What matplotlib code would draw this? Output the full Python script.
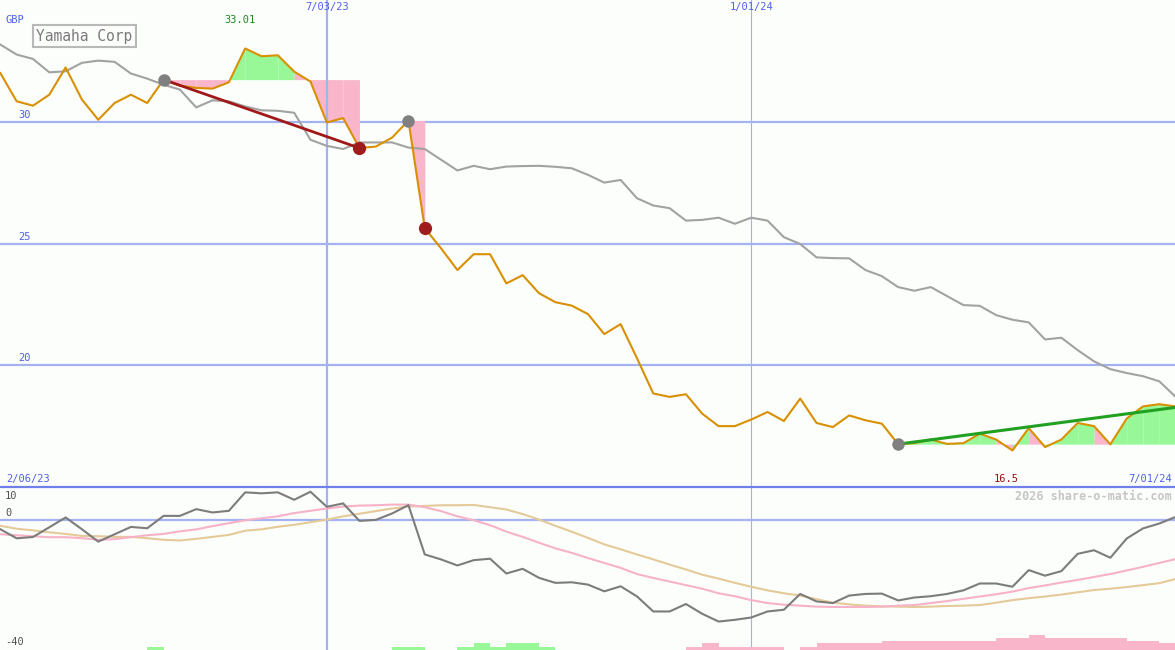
import matplotlib
matplotlib.use('Agg')
import matplotlib.pyplot as plt
from matplotlib.lines import Line2D
import numpy as np
import pandas as pd

# ---------------- data (weekly) ----------------
price = [32.00, 30.84, 30.66, 31.11, 32.23, 30.91, 30.08, 30.77, 31.11, 30.77,
         31.73, 31.48, 31.39, 31.36, 31.62, 33.01, 32.69, 32.73, 32.06, 31.65,
         29.97, 30.15, 28.92, 28.98, 29.35, 30.05, 25.63, 24.80, 23.91, 24.56,
         24.56, 23.36, 23.70, 22.96, 22.59, 22.45, 22.10, 21.28, 21.69, 20.29,
         18.84, 18.70, 18.81, 18.01, 17.50, 17.50, 17.77, 18.08, 17.71, 18.63,
         17.63, 17.46, 17.94, 17.74, 17.60, 16.76, 16.80, 16.95, 16.77, 16.80,
         17.19, 16.95, 16.50, 17.42, 16.64, 16.95, 17.63, 17.50, 16.75, 17.81,
         18.31, 18.40, 18.31]

avg = [33.17, 32.76, 32.58, 32.03, 32.07, 32.42, 32.51, 32.46, 31.98, 31.77,
       31.52, 31.32, 30.59, 30.88, 30.84, 30.63, 30.47, 30.45, 30.37, 29.26,
       29.01, 28.88, 29.15, 29.15, 29.15, 28.94, 28.88, 28.44, 28.00, 28.19,
       28.05, 28.16, 28.18, 28.19, 28.15, 28.09, 27.82, 27.50, 27.61, 26.86,
       26.56, 26.45, 25.94, 25.97, 26.06, 25.81, 26.06, 25.94, 25.26, 24.98,
       24.43, 24.40, 24.39, 23.91, 23.66, 23.21, 23.06, 23.21, 22.84, 22.47,
       22.44, 22.06, 21.87, 21.76, 21.06, 21.13, 20.62, 20.16, 19.84, 19.68,
       19.55, 19.34, 18.70]

osc = [-2.96, -5.74, -5.34, -2.35, 0.65, -2.96, -6.76, -4.5, -2.25, -2.65,
       1.14, 1.14, 3.21, 2.19, 2.69, 8.36, 8.06, 8.36, 6.08, 8.55,
       3.92, 4.97, -0.40, -0.09, 1.88, 4.44, -10.68, -12.22, -14.07, -12.44,
       -12.0, -16.54, -15.09, -17.87, -19.41, -19.23, -19.94, -22.0, -20.46, -23.55,
       -28.18, -28.18, -25.9, -28.9, -31.27, -30.74, -30.03, -28.18, -27.65, -22.8,
       -25.1, -25.6, -23.3, -22.8, -22.7, -24.8, -23.9, -23.5, -22.8, -21.7,
       -19.6, -19.6, -20.6, -15.5, -17.2, -15.8, -10.5, -9.4, -11.7, -5.8,
       -2.7, -1.2, 0.83]

osc_fast = [-4.5, -4.8, -5.1, -5.4, -5.4, -5.7, -6.2, -6.0, -5.4, -4.8,
            -4.4, -3.6, -3.0, -2.0, -1.1, -0.2, 0.4, 1.0, 2.0, 2.7,
            3.4, 4.0, 4.3, 4.4, 4.6, 4.6, 3.8, 2.6, 1.0, -0.2,
            -1.7, -3.7, -5.3, -7.1, -8.8, -10.2, -11.8, -13.3, -14.8, -16.7,
            -17.9, -19.0, -20.1, -21.2, -22.6, -23.5, -24.7, -25.6, -26.1, -26.4,
            -26.7, -26.8, -26.8, -26.8, -26.7, -26.4, -26.2, -25.6, -25.0, -24.3,
            -23.6, -22.9, -22.1, -21.0, -20.2, -19.3, -18.5, -17.6, -16.7, -15.6,
            -14.5, -13.3, -12.1]

osc_slow = [-1.9, -2.8, -3.3, -3.9, -4.4, -5.0, -5.1, -5.3, -5.3, -5.7,
            -6.2, -6.4, -5.9, -5.3, -4.7, -3.4, -3.0, -2.2, -1.6, -0.8,
            0.0, 1.0, 1.8, 2.6, 3.4, 4.0, 4.2, 4.4, 4.4, 4.5,
            3.8, 3.1, 1.7, 0.0, -1.9, -3.7, -5.6, -7.6, -9.1, -10.7,
            -12.2, -13.8, -15.3, -16.9, -18.1, -19.4, -20.6, -21.7, -22.6, -23.3,
            -24.4, -25.5, -26.0, -26.4, -26.6, -26.7, -26.8, -26.7, -26.5, -26.4,
            -26.2, -25.5, -24.7, -24.1, -23.6, -23.0, -22.3, -21.6, -21.2, -20.7,
            -20.1, -19.5, -18.2]

# positive = green bar, negative = pink bar
signal_bars = [0, 0, 0, 0, 0, 0, 0, 0, 0, 1.0,
               0, 0, 0, 0, 0, 0, 0, 0, 0, 0,
               0, 0, 0, 0, 1.0, 1.0, 0, 0, 1.0, 2.0,
               1.0, 2.0, 2.0, 1.0, 0, 0, 0, 0, 0, 0,
               0, 0, -1.0, -2.0, -1.0, -1.0, -1.0, -1.0, 0, -1.0,
               -2.0, -2.0, -2.0, -2.0, -2.9, -2.9, -2.9, -2.9, -2.9, -2.9,
               -2.9, -3.8, -3.8, -4.6, -3.8, -3.8, -3.8, -3.8, -3.8, -2.9,
               -2.9, -2.0, -2.0]

first_date = '2023-02-13'
vline_dates = ['2023-07-03', '2024-01-01']
vline_labels = ['7/03/23', '1/01/24']
start_label = '2/06/23'
end_label = '7/01/24'
company = 'Yamaha Corp'
currency = 'GBP'
price_ticks = [30, 25, 20]
osc_ticks = [10, 0, -40]
watermark = '2026 share-o-matic.com'

regions = [(10, 22), (25, 26), (55, 72)]      # (start week, end week)
peak_marks = [10, 25, 55]
low_marks = [22, 26]
downtrend = (10, 22)
uptrend = (55, 16.76, 72, 18.27)

# ---------------- drawing ----------------
dates = pd.date_range(first_date, periods=len(price), freq='7D')
x = np.arange(len(price))
vline_x = [(pd.Timestamp(d) - dates[0]).days / 7 for d in vline_dates]

W, H = 1175, 650
BG = '#FCFEFC'
GRID = '#A4B2F2'
BLUE_TXT = '#4F5FEA'
GREEN_F = '#98F898'
PINK_F = '#F9B5CA'
MONO = 'DejaVu Sans Mono'

fig = plt.figure(figsize=(W / 100, H / 100), dpi=100, facecolor=BG)
top_h = 487
bh = H - top_h
ax = fig.add_axes([0, bh / H, 1, top_h / H])
ax2 = fig.add_axes([0, 0, 1, bh / H])
for a in (ax, ax2):
    a.set_axis_off()
    a.set_xlim(-0.02, 71.96)

ax.set_ylim(15, 35)
ax2.set_ylim(osc_ticks[-1], osc_ticks[0])

# grid
for v in price_ticks:
    ax.axhline(v, color=GRID, lw=1.6, zorder=0.5)
    ax.text(18 / W, v + 0.08, str(v), transform=ax.get_yaxis_transform(),
            ha='left', va='bottom', fontsize=7.5, color=BLUE_TXT, family=MONO)
ax2.axhline(0, color=GRID, lw=1.6, zorder=0.5)

for xv, w, c in zip(vline_x, [1.6, 0.8], [GRID, '#A8B0E0']):
    ax.axvline(xv, color=c, lw=w, zorder=1.5)
    ax2.axvline(xv, color=c, lw=w, zorder=0.6)
for xv, lab in zip(vline_x, vline_labels):
    ax.text(xv, 1 - 2 / top_h, lab, transform=ax.get_xaxis_transform(),
            ha='center', va='top', fontsize=7.5, color=BLUE_TXT, family=MONO)

# shaded trend regions
for s, e in regions:
    level = price[s]
    for i in range(s, e):
        col = GREEN_F if price[i + 1] >= level else PINK_F
        ax.fill_between([x[i], x[i + 1]], [level, level], [price[i], price[i + 1]],
                        color=col, lw=0, zorder=1)

ax.plot(x, avg, color='#A2A2A2', lw=1.5, zorder=2)
ax.plot(x, price, color='#D89000', lw=1.5, zorder=3)

s, e = downtrend
ax.plot([x[s], x[e]], [price[s], price[e]], color='#A01818', lw=2, zorder=4)
ax.plot([uptrend[0], uptrend[2]], [uptrend[1], uptrend[3]], color='#22A022', lw=2.2,
        zorder=4)
ax.plot([x[i] for i in peak_marks], [price[i] for i in peak_marks], 'o', ms=9,
        color='#808080', mec='none', zorder=5)
ax.plot([x[i] for i in low_marks], [price[i] for i in low_marks], 'o', ms=9.5,
        color='#A01C1C', mec='none', zorder=5)

# labels top panel
ax.text(5 / W, 1 - 20 / top_h, currency, transform=ax.transAxes, ha='left',
        va='center', fontsize=7.5, color=BLUE_TXT, family=MONO)
ax.text(84.5 / W, 1 - 36 / top_h, company, transform=ax.transAxes, ha='center',
        va='center', fontsize=10.5, color='#7A7A7A', family=MONO,
        bbox=dict(boxstyle='square,pad=0.25', fc=BG, ec='#B8B8B8', lw=1.5))
imax = int(np.argmax(price))
imin = int(np.argmin(price))
ax.text(x[imax] - 0.3, 1 - 20 / top_h, f'{price[imax]:.2f}', transform=ax.get_xaxis_transform(),
        ha='center', va='center', fontsize=7.5, color='#208820', family=MONO)
ax.text(x[imin] - 0.4, 8 / top_h, f'{price[imin]:g}', transform=ax.get_xaxis_transform(),
        ha='center', va='center', fontsize=7.5, color='#A01010', family=MONO)
ax.text(6 / W, 8 / top_h, start_label, transform=ax.transAxes, ha='left',
        va='center', fontsize=7.5, color=BLUE_TXT, family=MONO)
ax.text(1 - 3 / W, 8 / top_h, end_label, transform=ax.transAxes, ha='right',
        va='center', fontsize=7.5, color=BLUE_TXT, family=MONO)

# bottom panel
green_h = [max(v, 0) for v in signal_bars]
pink_h = [max(-v, 0) for v in signal_bars]
ax2.bar(x, green_h, width=1, align='edge', bottom=osc_ticks[-1], color=GREEN_F, lw=0, zorder=1)
ax2.bar(x, pink_h, width=1, align='edge', bottom=osc_ticks[-1], color=PINK_F, lw=0, zorder=1)
ax2.plot(x, osc_slow, color='#E4CA98', lw=1.5, zorder=2)
ax2.plot(x, osc_fast, color='#F8B2C8', lw=1.5, zorder=2.1)
ax2.plot(x, osc, color='#7C7C7C', lw=1.5, zorder=3)

ytr = ax2.get_yaxis_transform()
ax2.text(5 / W, 1 - 9 / bh, str(osc_ticks[0]), transform=ax2.transAxes, ha='left',
         va='center', fontsize=7.5, color='#505050', family=MONO)
ax2.text(5 / W, osc_ticks[1] + 0.6, str(osc_ticks[1]), transform=ytr,
         ha='left', va='bottom', fontsize=7.5, color='#505050', family=MONO)
ax2.text(5 / W, 3 / bh, str(osc_ticks[2]), transform=ax2.transAxes, ha='left',
         va='bottom', fontsize=7.5, color='#505050', family=MONO)
ax2.text(1 - 3 / W, 1 - 9 / bh, watermark, transform=ax2.transAxes, ha='right',
         va='center', fontsize=8.5, color='#C6C6C6', family=MONO, fontweight='bold')

# separator between panels
fig.add_artist(Line2D([0, 1], [bh / H, bh / H], transform=fig.transFigure,
                      color='#7080EA', lw=1.6))

fig.savefig('out.png', dpi=100, facecolor=BG)
